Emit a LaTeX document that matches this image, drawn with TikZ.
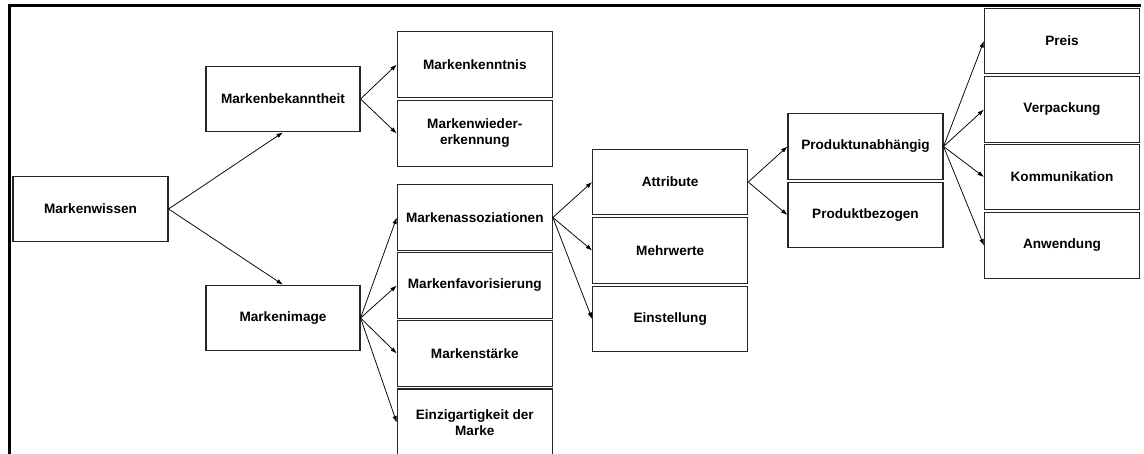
\documentclass[tikz,border=0pt]{standalone}
\usepackage{fontspec}
\setmainfont{Liberation Sans}
\usetikzlibrary{arrows.meta}
\tikzset{
  box/.style={draw=black!85, line width=1.1pt, fill=white, minimum width=155pt,
    minimum height=65.5pt, inner sep=0pt, align=center,
    font=\fontsize{13.6}{16}\selectfont\bfseries},
  link/.style={line width=0.75pt, -{Latex[length=6.5pt,width=4.5pt]}},
  frame/.style={line width=3pt}
}
\begin{document}
\begin{tikzpicture}[x=1pt, y=-1pt]
\useasboundingbox (0,0) rectangle (1144,454);
% outer frame (left and top edges)
\draw[frame] (9,460) -- (9,6) -- (1140.5,6);

% level 1
\node[box] (mw) at (90.5,209) {Markenwissen};
% level 2
\node[box, minimum width=154pt] (mb) at (283,99) {Markenbekanntheit};
\node[box, minimum width=154pt] (mi) at (283,318) {Markenimage};
% level 3
\node[box] (mk)  at (474.8,64.5)  {Markenkenntnis};
\node[box] (mwe) at (474.8,133.5) {Markenwieder-\\erkennung};
\node[box] (mas) at (474.8,217.5) {Markenassoziationen};
\node[box] (mf)  at (474.8,285.5) {Markenfavorisierung};
\node[box] (ms)  at (474.8,353.5) {Markenstärke};
\node[box, minimum height=67pt] (ez) at (474.8,422.5) {Einzigartigkeit der\\Marke};
% level 4
\node[box] (at) at (670.2,182)   {Attribute};
\node[box] (mh) at (670.2,250.5) {Mehrwerte};
\node[box] (es) at (670.2,319)   {Einstellung};
% level 5
\node[box] (pu) at (865.5,146.5) {Produktunabhängig};
\node[box] (pb) at (865.5,215)   {Produktbezogen};
% level 6
\node[box] (pr) at (1062,41)    {Preis};
\node[box] (vp) at (1062,109.5) {Verpackung};
\node[box] (ko) at (1062,177)   {Kommunikation};
\node[box] (an) at (1062,245.5) {Anwendung};

% connectors
\draw[link] (mw.east) -- (mb.south);
\draw[link] (mw.east) -- (mi.north);
\draw[link] (mb.east) -- (mk.west);
\draw[link] (mb.east) -- (mwe.west);
\draw[link] (mi.east) -- (mas.west);
\draw[link] (mi.east) -- (mf.west);
\draw[link] (mi.east) -- (ms.west);
\draw[link] (mi.east) -- (ez.west);
\draw[link] (mas.east) -- (at.west);
\draw[link] (mas.east) -- (mh.west);
\draw[link] (mas.east) -- (es.west);
\draw[link] (at.east) -- (pu.west);
\draw[link] (at.east) -- (pb.west);
\draw[link] (pu.east) -- (pr.west);
\draw[link] (pu.east) -- (vp.west);
\draw[link] (pu.east) -- (ko.west);
\draw[link] (pu.east) -- (an.west);
\end{tikzpicture}
\end{document}
